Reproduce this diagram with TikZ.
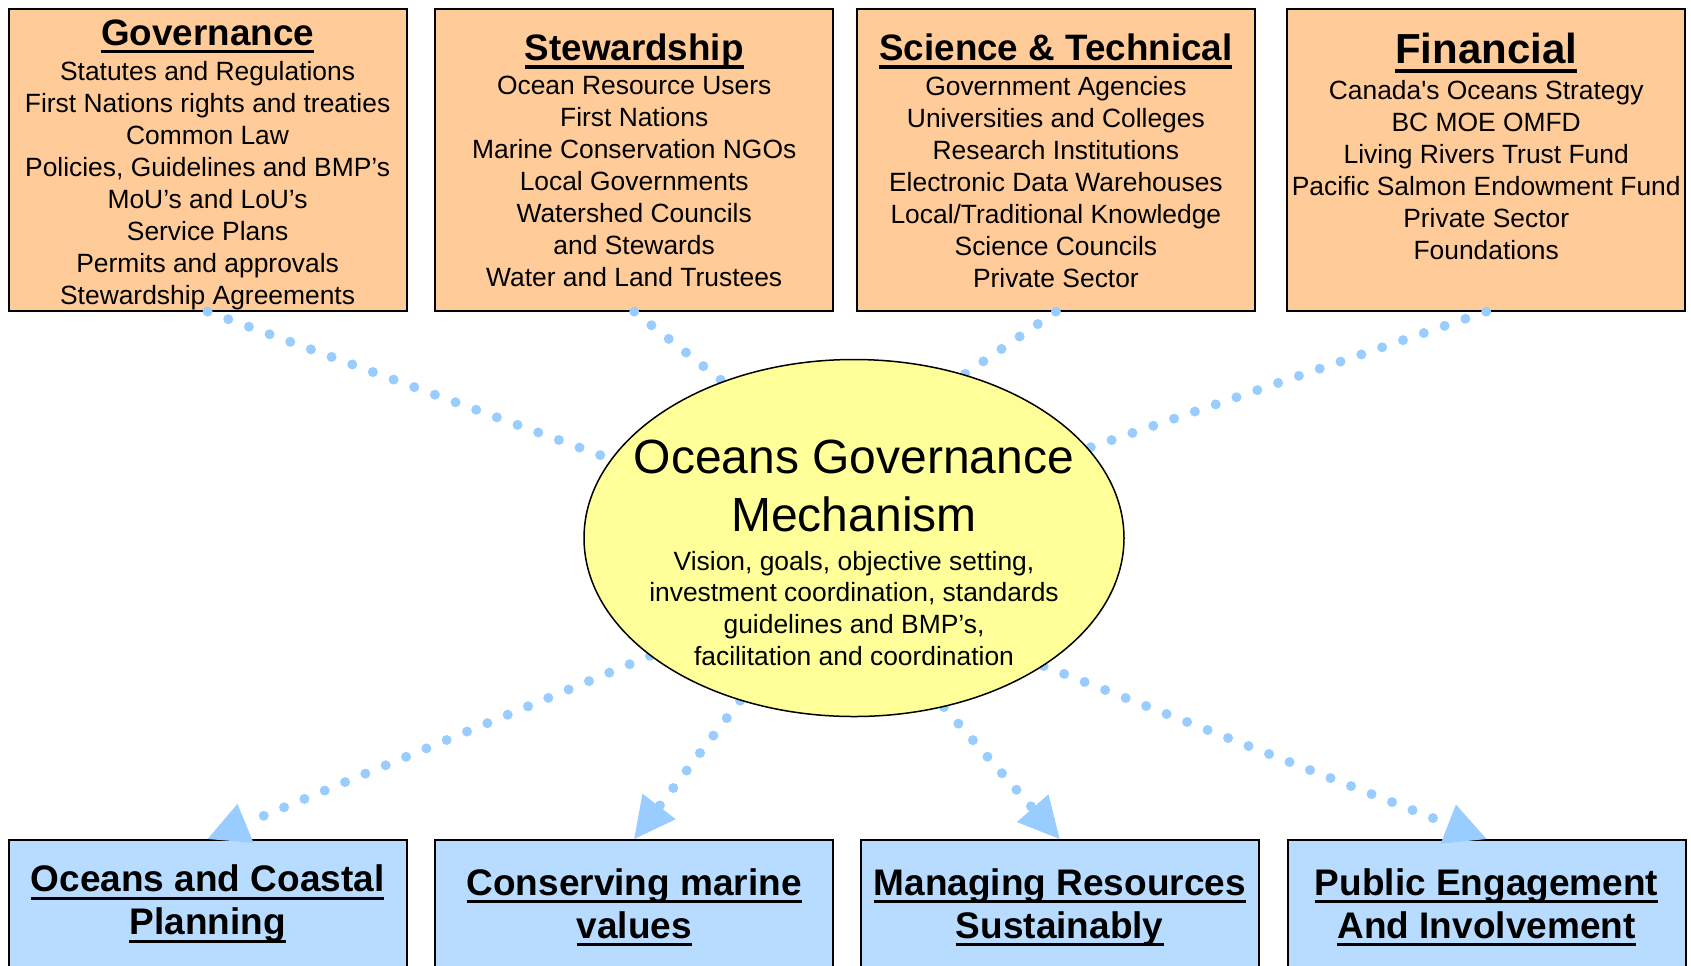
\documentclass[tikz,border=0pt]{standalone}
\usepackage{fontspec}
\setmainfont{Liberation Sans}
\usetikzlibrary{shapes.geometric,arrows.meta}
\pgfdeclarelayer{boxes}
\pgfdeclarelayer{links}
\pgfsetlayers{boxes,links,main}

\definecolor{peach}{HTML}{FFCC99}
\definecolor{paleblue}{HTML}{B8DCFF}
\definecolor{paleyellow}{HTML}{FFFF99}
\definecolor{dotblue}{HTML}{99CCFF}

\newcommand{\headrule}[1]{\setbox0\hbox{#1}\rlap{\vrule width\wd0 height -0.13em depth 0.22em}\box0}

\tikzset{
  sourcebox/.style={draw=black, line width=1pt, fill=peach, minimum width=199pt, minimum height=151pt, inner sep=0pt},
  goalbox/.style={draw=black, line width=1pt, fill=paleblue, minimum width=199pt, minimum height=150pt, inner sep=0pt},
  hub/.style={ellipse, draw=black, line width=0.75pt, fill=paleyellow, minimum width=270pt, minimum height=178.5pt, inner sep=0pt},
  head/.style={anchor=base, inner sep=0pt, font=\fontsize{18.4}{22}\selectfont\bfseries},
  items/.style={anchor=north, align=center, inner sep=0pt, font=\fontsize{13.2}{16}\selectfont},
  goaltext/.style={anchor=north, align=center, inner sep=0pt, font=\fontsize{18.5}{21.5}\selectfont\bfseries},
  hubhead/.style={anchor=north, align=center, inner sep=0pt, font=\fontsize{24}{29}\selectfont},
  hubtext/.style={anchor=north, align=center, inner sep=0pt, font=\fontsize{13.2}{15.85}\selectfont},
  dotlink/.style={draw=dotblue, line width=5pt, line cap=round, dash pattern=on 0pt off 11pt},
  dotfeed/.style={dotlink, -{Triangle[length=20.5pt,width=21pt,line width=0pt]}}
}

\begin{document}
\begin{tikzpicture}[x=0.5pt,y=-0.5pt]
        \useasboundingbox (0,0) rectangle (1691,965);

        \begin{pgfonlayer}{boxes}
        \node[sourcebox] (gov) at (207.6,159.6) {};
        \node[sourcebox] (stew) at (634.2,159.6) {};
        \node[sourcebox] (sci) at (1055.9,159.6) {};
        \node[sourcebox] (fin) at (1486.2,159.6) {};

        \node[goalbox] (plan) at (207.6,990) {};
        \node[goalbox] (cons) at (634.2,990) {};
        \node[goalbox] (manage) at (1059.7,990) {};
        \node[goalbox] (public) at (1486.5,990) {};
        \end{pgfonlayer}

        \node[hub] (ogm) at (854,538) {};

        % top boxes
        \node[head] (govhead) at (207.6,45) {\headrule{Governance}};
        \node[items] (govlist) at (207.6,60.7) {Statutes and Regulations\\First Nations rights and treaties\\Common Law\\Policies, Guidelines and BMP’s\\MoU’s and LoU’s\\Service Plans\\Permits and approvals\\Stewardship Agreements};

        \node[head] (stewhead) at (634.2,60.5) {\headrule{Stewardship}};
        \node[items] (stewlist) at (634.2,75.7) {Ocean Resource Users\\First Nations\\Marine Conservation NGOs\\Local Governments\\Watershed Councils\\and Stewards\\Water and Land Trustees};

        \node[head] (scihead) at (1055.9,60.5) {\headrule{Science \& Technical}};
        \node[items] (scilist) at (1055.9,75.7) {Government Agencies\\Universities and Colleges\\Research Institutions\\Electronic Data Warehouses\\Local/Traditional Knowledge\\Science Councils\\Private Sector};

        \node[head, font=\fontsize{21}{25}\selectfont\bfseries] (finhead) at (1486.2,63.4) {\headrule{Financial}};
        \node[items] (finlist) at (1486.2,79.7) {Canada\textquotesingle s Oceans Strategy\\BC MOE OMFD\\Living Rivers Trust Fund\\Pacific Salmon Endowment Fund\\Private Sector\\Foundations};

        % centre
        \node[hubhead] (ogmhead) at (854,440) {Oceans Governance\\Mechanism};
        \node[hubtext] (ogmtext) at (854,550.7) {Vision, goals, objective setting,\\investment coordination, standards\\guidelines and BMP’s,\\facilitation and coordination};

        % bottom boxes
        \node[goaltext] (plantext) at (207.6,864.7) {\headrule{Oceans and Coastal}\\\headrule{Planning}};
        \node[goaltext] (constext) at (634.2,868) {\headrule{Conserving marine}\\\headrule{values}};
        \node[goaltext] (managetext) at (1059.7,868) {\headrule{Managing Resources}\\\headrule{Sustainably}};
        \node[goaltext] (publictext) at (1486.5,868) {\headrule{Public Engagement}\\\headrule{And Involvement}};

        \begin{pgfonlayer}{links}
        \draw[dotlink] (gov.south) -- (ogm.162);
        \draw[dotlink] (stew.south) -- (ogm.130);
        \draw[dotlink] (sci.south) -- (ogm.56);
        \draw[dotlink] (fin.south) -- (ogm.21);

        \draw[dotfeed] (ogm.210) -- (plan.north);
        \draw[dotfeed] (ogm.235) -- (cons.north);
        \draw[dotfeed] (ogm.298) -- (manage.north);
        \draw[dotfeed] (ogm.326) -- (public.north);
        \end{pgfonlayer}
\end{tikzpicture}
\end{document}
